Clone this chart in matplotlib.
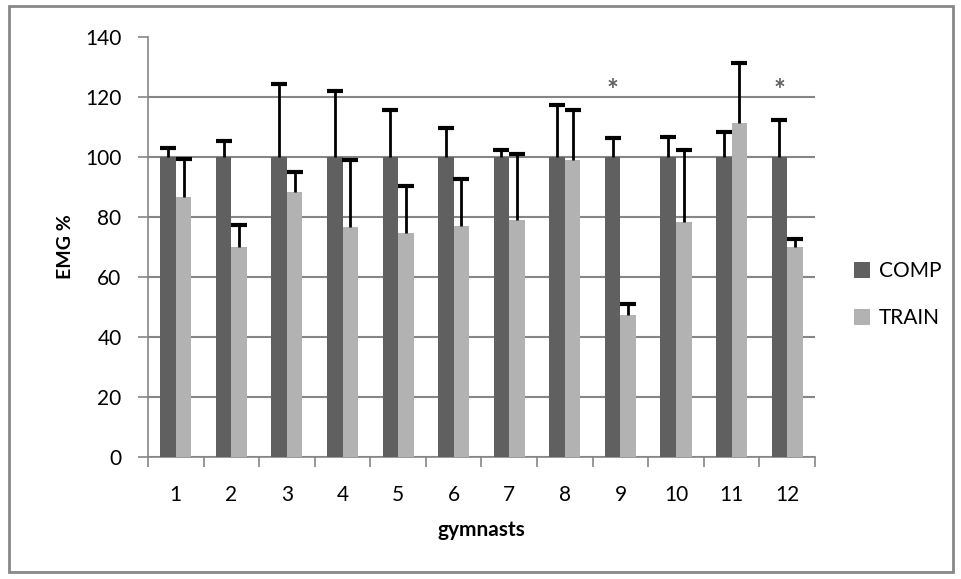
import numpy as np
import matplotlib.pyplot as plt
from matplotlib.patches import Rectangle

# data
gymnasts = ['1', '2', '3', '4', '5', '6', '7', '8', '9', '10', '11', '12']
comp = [100, 100, 100, 100, 100, 100, 100, 100, 100, 100, 100, 100]
comp_err = [2.9, 5.3, 24.2, 22.0, 15.6, 9.6, 2.3, 17.3, 6.2, 6.7, 8.4, 12.2]
train = [86.8, 70.0, 88.3, 76.7, 74.7, 77.0, 79.0, 99.0, 47.3, 78.3, 111.3, 70.0]
train_err = [12.5, 7.2, 6.7, 22.2, 15.6, 15.6, 22.1, 16.6, 3.6, 24.1, 20.0, 2.7]
significant = ['9', '12']
star_level = 122

plt.rcParams['font.family'] = ['Lato', 'DejaVu Sans']

fig = plt.figure(figsize=(9.62, 5.79), dpi=100)
ax = fig.add_axes([0.1538, 0.2107, 0.6934, 0.7254])

x = np.arange(len(gymnasts))
w = 0.28
dark = '#606060'
light = '#b2b2b2'


def upper_errorbars(xpos, vals, errs):
    # only the upper half of the error bar, with a cap on top
    _, caps, _ = ax.errorbar(xpos, vals, yerr=[np.zeros(len(vals)), errs], fmt='none',
                             ecolor='black', elinewidth=2, capsize=6, capthick=3, zorder=4)
    lowest = min(caps, key=lambda c: np.mean(c.get_ydata()))
    lowest.set_visible(False)


ax.bar(x - w / 2, comp, w, color=dark, label='COMP', zorder=3)
ax.bar(x + w / 2, train, w, color=light, label='TRAIN', zorder=3)
upper_errorbars(x - w / 2, comp, comp_err)
upper_errorbars(x + w / 2, train, train_err)

for g in significant:
    i = gymnasts.index(g)
    ax.text(i - w / 2, star_level, '*', ha='center', va='center',
            fontsize=20, color='#606060', fontweight='bold')

ax.set_xlim(-0.5, len(gymnasts) - 0.5)
ax.set_ylim(0, 140)
ax.set_yticks(range(0, 141, 20))
ax.set_xticks(x)
ax.set_xticklabels(gymnasts)
ax.set_xticks(np.arange(-0.5, len(gymnasts)), minor=True)
ax.tick_params(axis='x', which='major', length=0, pad=20, labelsize=15)
ax.tick_params(axis='x', which='minor', length=7, color='#868686', width=1.2)
ax.tick_params(axis='y', length=7, color='#868686', width=1.2, labelsize=15, pad=12)

ax.yaxis.grid(True, color='#868686', lw=1.5, zorder=0)
ax.get_ygridlines()[-1].set_visible(False)
ax.set_axisbelow(True)
for s in ['top', 'right']:
    ax.spines[s].set_visible(False)
for s in ['left', 'bottom']:
    ax.spines[s].set_color('#868686')
    ax.spines[s].set_linewidth(1.2)

ax.set_xlabel('gymnasts', fontsize=15, fontweight='bold', labelpad=11)
ax.set_ylabel('EMG %', fontsize=14, fontweight='bold', labelpad=8)

ax.legend(loc='center left', bbox_to_anchor=(1.03, 0.386), frameon=False,
          fontsize=15, handlelength=0.8, handleheight=0.8, handletextpad=0.4,
          labelspacing=1.3)

fig.patches.append(Rectangle((0.0095, 0.012), 0.981, 0.977, transform=fig.transFigure,
                             fill=False, edgecolor='#888888', linewidth=2))

fig.savefig('out.png', dpi=100)
